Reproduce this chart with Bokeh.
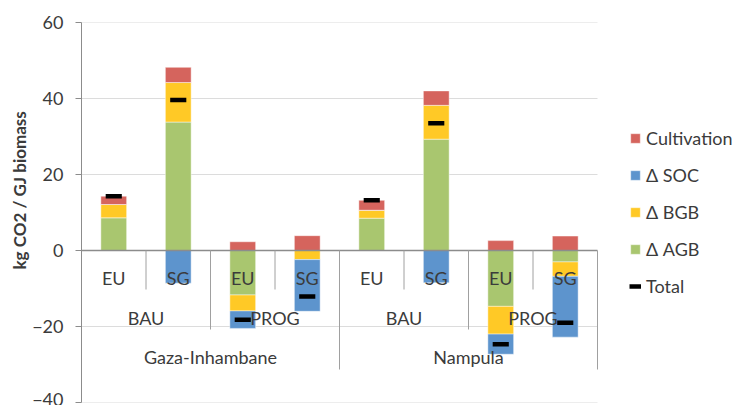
import math
from bokeh.plotting import figure
from bokeh.models import Range1d, Legend, LegendItem, Title, ColumnDataSource, FixedTicker
from bokeh.core.properties import value
from bokeh.embed import file_html
from bokeh.resources import INLINE

# ---- data ----
crops = ["EU", "SG", "EU", "SG", "EU", "SG", "EU", "SG"]
scenarios = ["BAU", "BAU", "PROG", "PROG", "BAU", "BAU", "PROG", "PROG"]
regions = ["Gaza-Inhambane"] * 4 + ["Nampula"] * 4
d_agb = [8.6, 33.8, -11.7, 0.0, 8.5, 29.3, -14.7, -3.0]
d_bgb = [3.5, 10.4, -4.2, -2.4, 2.1, 8.9, -7.3, -3.8]
d_soc = [0.0, -8.6, -4.6, -13.6, 0.0, -8.5, -5.3, -16.0]
cultivation = [2.2, 4.0, 2.3, 3.9, 2.6, 3.8, 2.6, 3.8]
y_ticks = [-40, -20, 0, 20, 40, 60]

series = [("Δ AGB", d_agb, "#A9C66F"),
          ("Δ BGB", d_bgb, "#FFC926"),
          ("Δ SOC", d_soc, "#5D94CD"),
          ("Cultivation", cultivation, "#D5645D")]

FONT = "Lato"
TXT = "#3b3b3b"
GRAY = "#8c8c8c"
W, H = 736, 405
LEFT, TOP, BOTTOM = 81, 22, 3
FRAME_W = W - LEFT
FRAME_H = H - TOP - BOTTOM
CAT_W = 516  # pixels covered by the categories
Y_MIN, Y_MAX = -40, 60
px = (Y_MAX - Y_MIN) / FRAME_H  # data units per pixel

n = len(crops)
xs = [i + 0.5 for i in range(n)]
totals = [sum(v) for v in zip(d_agb, d_bgb, d_soc, cultivation)]
x_end = n * FRAME_W / CAT_W

p = figure(width=W, height=H, output_backend="svg", toolbar_location=None,
           x_range=Range1d(0, x_end), y_range=Range1d(Y_MIN, Y_MAX),
           min_border_left=LEFT, min_border_right=0, min_border_top=TOP, min_border_bottom=BOTTOM)
p.outline_line_color = None
p.background_fill_color = "white"
p.xaxis.visible = False
p.xgrid.visible = False
p.ygrid.visible = False
p.yaxis.ticker = FixedTicker(ticks=y_ticks)
p.yaxis.minor_tick_line_color = None
p.yaxis.major_tick_in = 0
p.yaxis.major_tick_out = 6
p.yaxis.axis_line_color = GRAY
p.yaxis.major_tick_line_color = GRAY
p.yaxis.major_label_standoff = 12
p.yaxis.major_label_text_font = FONT
p.yaxis.major_label_text_font_size = "18px"
p.yaxis.major_label_text_color = TXT

# gridlines (only across the category area)
grid_y = [t for t in y_ticks if t != 0]
p.segment(x0=[0] * len(grid_y), y0=grid_y, x1=[n] * len(grid_y), y1=grid_y,
          line_color="#dcdcdc", line_width=1)

# stacked bars (positive and negative stacks separately)
pos = [0.0] * n
neg = [0.0] * n
renderers = {}
for name, vals, color in series:
    bottoms, tops = [], []
    for i, v in enumerate(vals):
        if v >= 0:
            bottoms.append(pos[i]); tops.append(pos[i] + v); pos[i] += v
        else:
            tops.append(neg[i]); bottoms.append(neg[i] + v); neg[i] += v
    src = ColumnDataSource(dict(x=xs, bottom=bottoms, top=tops))
    renderers[name] = p.vbar(x="x", width=0.4, bottom="bottom", top="top", source=src,
                             fill_color=color, line_color="white", line_alpha=0.45, line_width=1)

# category axis at zero
p.segment(x0=[0], y0=[0], x1=[n], y1=[0], line_color=GRAY, line_width=1.5)

# separators
seps_x, seps_y = [], []
for b in range(n + 1):
    if b == 0 or b == n or regions[b - 1] != regions[b]:
        depth = 119
    elif scenarios[b - 1] != scenarios[b]:
        depth = 79
    else:
        depth = 39
    seps_x.append(b)
    seps_y.append(-depth * px)
p.segment(x0=seps_x, y0=[0] * len(seps_x), x1=seps_x, y1=seps_y, line_color="#a0a0a0", line_width=1)

# labels level 1
p.text(x=xs, y=[0] * n, text=crops, y_offset=27, text_align="center", text_baseline="middle",
       text_font=value(FONT), text_font_size="18px", text_color=TXT)

def groups(keys):
    out = []
    start = 0
    for i in range(1, n + 1):
        if i == n or keys[i] != keys[start]:
            out.append((keys[start], (xs[start] + xs[i - 1]) / 2))
            start = i
    return out

g2 = groups(list(zip(regions, scenarios)))
p.text(x=[c for _, c in g2], y=[0] * len(g2), text=[k[1] for k, _ in g2], y_offset=67,
       text_align="center", text_baseline="middle",
       text_font=value(FONT), text_font_size="18px", text_color=TXT)
g3 = groups(regions)
p.text(x=[c for _, c in g3], y=[0] * len(g3), text=[k for k, _ in g3], y_offset=106,
       text_align="center", text_baseline="middle",
       text_font=value(FONT), text_font_size="18px", text_color=TXT)

# totals as short thick dashes
half = 0.125
tot = p.segment(x0=[x - half for x in xs], y0=totals, x1=[x + half for x in xs], y1=totals,
                line_color="black", line_width=4.5, line_cap="butt")

legend = Legend(items=[LegendItem(label="Cultivation", renderers=[renderers["Cultivation"]]),
                       LegendItem(label="Δ SOC", renderers=[renderers["Δ SOC"]]),
                       LegendItem(label="Δ BGB", renderers=[renderers["Δ BGB"]]),
                       LegendItem(label="Δ AGB", renderers=[renderers["Δ AGB"]]),
                       LegendItem(label="Total", renderers=[tot])],
                location=(548, 105), padding=0, margin=0, spacing=15,
                glyph_width=12, glyph_height=12, label_height=22, label_standoff=5,
                label_text_font=FONT, label_text_font_size="18px", label_text_color=TXT,
                border_line_color=None, background_fill_alpha=0)
p.add_layout(legend)

ylab = Title(text="kg CO2 / GJ biomass", align="left", offset=133, standoff=0,
             text_font=FONT, text_font_style="bold", text_font_size="17px", text_color=TXT)
p.add_layout(ylab, "left")

open("out.html", "w").write(file_html(p, INLINE))
